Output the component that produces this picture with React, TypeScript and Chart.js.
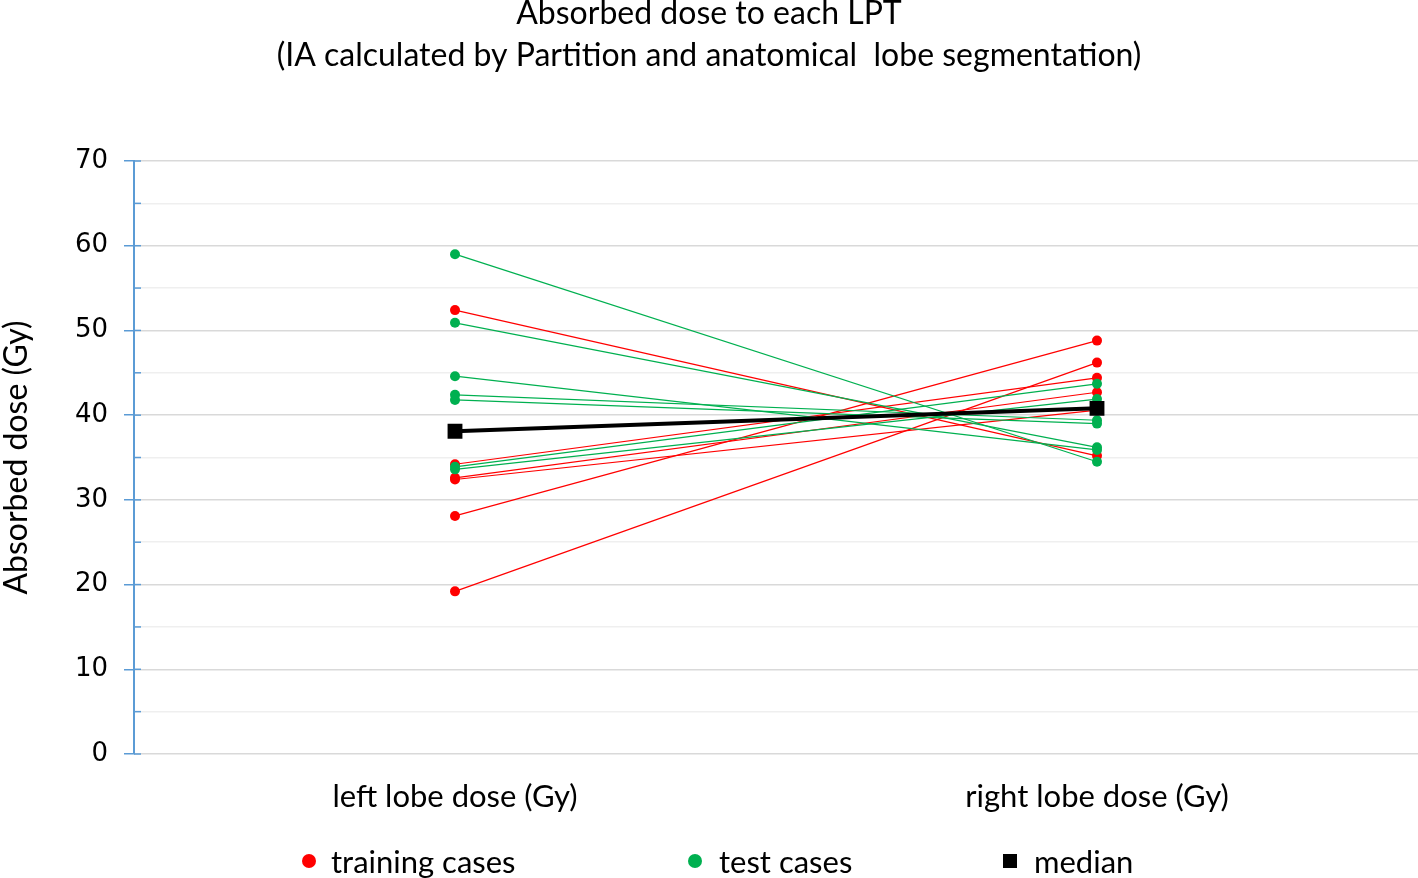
import React, { useEffect, useRef } from "react"
import { Chart, registerables } from "chart.js"

Chart.register(...registerables)

const categories = ["left lobe dose (Gy)", "right lobe dose (Gy)"]

// training cases (red), left and right lobe dose per case
const trainingLeft = [52.4, 34.2, 32.6, 32.4, 28.1, 19.2]
const trainingRight = [35.2, 44.4, 42.7, 40.6, 48.8, 46.2]

// test cases (green)
const testLeft = [59.0, 50.9, 44.6, 42.4, 41.8, 33.9, 33.6]
const testRight = [34.5, 36.2, 35.9, 39.4, 39.0, 43.7, 41.9]

const medianValues = [38.1, 40.8]

const RED = "#ff0000"
const GREEN = "#00b050"
const AXIS_BLUE = "#5b9bd5"

const innerTicks = {
  id: "innerTicks",
  afterDraw(chart: Chart) {
    const scale = chart.scales.y
    const ctx = chart.ctx
    ctx.save()
    ctx.strokeStyle = AXIS_BLUE
    ctx.lineWidth = 1.5
    scale.ticks.forEach((t) => {
      const py = scale.getPixelForValue(t.value)
      ctx.beginPath()
      ctx.moveTo(chart.chartArea.left, py)
      ctx.lineTo(chart.chartArea.left + 7, py)
      ctx.stroke()
    })
    ctx.restore()
  },
}

const caseSet = (left: number, right: number, color: string) => ({
  data: [left, right],
  borderColor: color,
  backgroundColor: color,
  borderWidth: 1.2,
  pointRadius: 5,
  pointHoverRadius: 5,
  pointBorderWidth: 0,
  order: 1,
})

const legendItems = [
  { label: "training cases", color: RED, shape: "circle", x: 302, textX: 331 },
  { label: "test cases", color: GREEN, shape: "circle", x: 688, textX: 719 },
  { label: "median", color: "#000", shape: "square", x: 1003, textX: 1034 },
]

const App: React.FC = () => {
  const chartRef = useRef<HTMLCanvasElement | null>(null)

  useEffect(() => {
    document.body.style.margin = "0"
    if (!chartRef.current) return
    const ctx = chartRef.current.getContext("2d")
    if (!ctx) return

    const datasets: any[] = [
      {
        label: "median",
        data: medianValues,
        borderColor: "#000",
        backgroundColor: "#000",
        borderWidth: 4,
        pointStyle: "rect",
        pointRadius: 10.5,
        pointHoverRadius: 10.5,
        pointBorderWidth: 0,
        order: -1,
      },
    ]
    testLeft.forEach((v, i) => datasets.push(caseSet(v, testRight[i], GREEN)))
    trainingLeft.forEach((v, i) =>
      datasets.push(caseSet(v, trainingRight[i], RED))
    )

    const chartInstance = new Chart(ctx, {
      type: "line",
      data: { labels: categories, datasets },
      options: {
        responsive: false,
        animation: false,
        devicePixelRatio: 1,
        layout: { padding: 0, autoPadding: false },
        plugins: {
          legend: { display: false },
          tooltip: { enabled: false },
          title: {
            display: true,
            text: [
              "Absorbed dose to each LPT",
              "(IA calculated by Partition and anatomical  lobe segmentation)",
            ],
            color: "#000",
            font: { family: "Lato", size: 32, weight: "normal", lineHeight: 1.3125 },
            padding: { top: -7, bottom: 84 },
          },
        },
        scales: {
          x: {
            offset: true,
            grid: { display: false, drawTicks: false },
            border: { display: false },
            ticks: {
              color: "#000",
              padding: 24,
              font: { family: "Lato", size: 31 },
            },
            afterFit: (scale: any) => {
              scale.height = 124
            },
          },
          y: {
            min: 0,
            max: 70,
            border: { color: AXIS_BLUE, width: 2 },
            grid: {
              color: (c: any) => (c.tick && c.tick.value % 10 === 0 ? "#d9d9d9" : "#efefef"),
              lineWidth: 1.5,
              tickLength: 10,
              tickColor: (c: any) =>
                c.tick && c.tick.value % 10 === 0 ? AXIS_BLUE : "rgba(0,0,0,0)",
            },
            ticks: {
              stepSize: 5,
              color: "#000",
              padding: 16,
              font: { family: "DejaVu Sans", size: 26 },
              callback: (v: any) => (Number(v) % 10 === 0 ? v : ""),
            },
            title: {
              display: true,
              text: "Absorbed dose (Gy)",
              color: "#000",
              padding: { top: -3, bottom: 0 },
              font: { family: "Lato", size: 32 },
            },
            afterFit: (scale: any) => {
              scale.width = 134
            },
          },
        },
      },
      plugins: [innerTicks],
    })

    return () => {
      chartInstance.destroy()
    }
  }, [])

  return (
    <div style={{ position: "relative", width: 1418, height: 878 }}>
      <canvas ref={chartRef} width={1418} height={878} />
      {legendItems.map((item) => (
        <React.Fragment key={item.label}>
          <div
            style={{
              position: "absolute",
              left: item.x,
              top: 854,
              width: 14,
              height: 14,
              borderRadius: item.shape === "circle" ? "50%" : 0,
              background: item.color,
            }}
          />
          <div
            style={{
              position: "absolute",
              left: item.textX,
              top: 841,
              fontFamily: "Lato",
              fontSize: 31,
              lineHeight: "40px",
              color: "#000",
              whiteSpace: "nowrap",
            }}
          >
            {item.label}
          </div>
        </React.Fragment>
      ))}
    </div>
  )
}

export default App
